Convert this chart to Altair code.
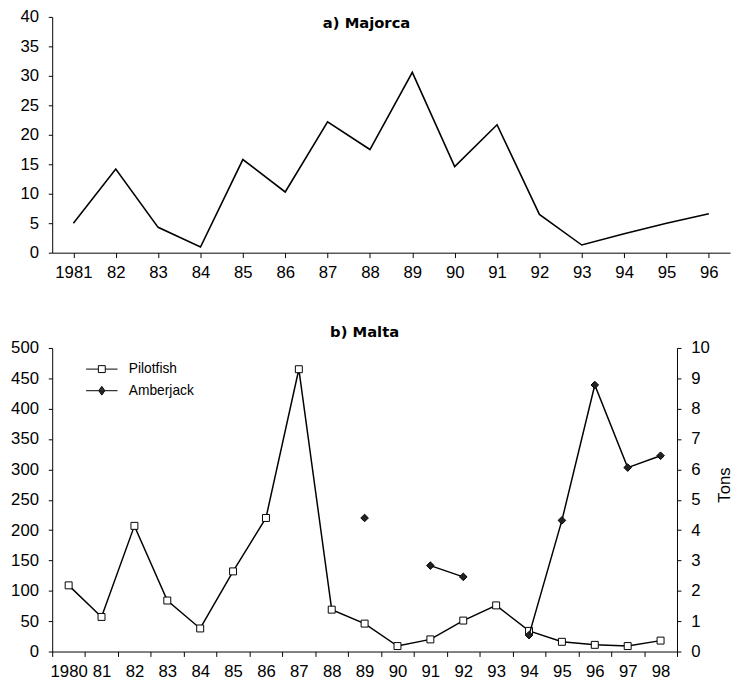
import altair as alt
import pandas as pd

FONT = "Liberation Sans"
TITLE_FONT = "DejaVu Sans"

# a) Majorca
maj_years = ["1981", "82", "83", "84", "85", "86", "87", "88", "89", "90",
             "91", "92", "93", "94", "95", "96"]
maj_values = [5.0, 14.2, 4.3, 0.95, 15.8, 10.3, 22.2, 17.5, 30.6, 14.6,
              21.7, 6.5, 1.3, 3.2, 5.0, 6.6]

# b) Malta
malta_years = ["1980", "81", "82", "83", "84", "85", "86", "87", "88", "89",
               "90", "91", "92", "93", "94", "95", "96", "97", "98"]
pilotfish = [109, 57, 207, 84, 38, 132, 220, 465, 69, 46,
             9, 20, 51, 76, 34, 16, 11, 9, 18]
amberjack = [None, None, None, None, None, None, None, None, None, 4.4,
             None, 2.83, 2.46, None, 0.54, 4.32, 8.78, 6.06, 6.45]
series_names = ["Pilotfish", "Amberjack"]
panel_titles = ["a) Majorca", "b) Malta"]
legend_paths = [
    "M-2,0H-0.44M0.44,0H2M-0.44,-0.44H0.44M0.44,-0.44V0.44M0.44,0.44H-0.44M-0.44,0.44V-0.44",
    "M-2,0H2M0,-0.56L0.38,0L0,0.56L-0.38,0Z"
    "M-0.3,-0.12H0.3M-0.3,0.12H0.3M-0.21,-0.25H0.21M-0.21,0.25H0.21"
    "M-0.12,-0.38H0.12M-0.12,0.38H0.12",
]

top_df = pd.DataFrame({"year": maj_years, "value": maj_values})
bot_df = pd.DataFrame({"year": malta_years, "pilot": pilotfish,
                       "amber": amberjack})
leg_df = pd.DataFrame({"series": series_names})


def title_layer(text, xpos, ypos):
    return alt.Chart(pd.DataFrame({"t": [text]})).mark_text(
        font=TITLE_FONT, fontSize=15, fontWeight="bold", color="black",
        align="center", baseline="alphabetic"
    ).encode(text="t:N", x=alt.value(xpos), y=alt.value(ypos))


top_line = alt.Chart(top_df).mark_line(color="black", strokeWidth=1.6).encode(
    x=alt.X("year:O", sort=maj_years,
            scale=alt.Scale(type="point", padding=0.5),
            axis=alt.Axis(title=None, labelAngle=0, tickSize=5, labelPadding=7)),
    y=alt.Y("value:Q", scale=alt.Scale(domain=[0, 40], nice=False),
            axis=alt.Axis(title=None, values=list(range(0, 41, 5)),
                          tickSize=4, labelPadding=10)),
)
top = alt.layer(top_line, title_layer(panel_titles[0], 320, 11)).properties(
    width=690, height=240)

xb = alt.X("year:O", sort=malta_years, bandPosition=0.5,
           scale=alt.Scale(type="band", paddingInner=0, paddingOuter=0),
           axis=alt.Axis(title=None, labelAngle=0, tickBand="extent",
                         tickSize=5, labelPadding=7))

base = alt.Chart(bot_df)
yp = alt.Y("pilot:Q", scale=alt.Scale(domain=[0, 500], nice=False),
           axis=alt.Axis(title=None, values=list(range(0, 501, 50)),
                         tickSize=4, labelPadding=10))
pilot_line = base.mark_line(color="black", strokeWidth=1.5).encode(x=xb, y=yp)
pilot_pts = base.mark_point(shape="square", size=50, filled=True, fill="white",
                            stroke="black", strokeWidth=1, opacity=1).encode(x=xb, y=yp)

legend = alt.Legend(
    title=None, orient="none", legendX=42, legendY=13,
    symbolSize=256, labelOffset=19, labelFont=FONT,
    labelFontSize=14, labelColor="black", rowPadding=6,
    symbolStrokeWidth=1, symbolStrokeColor="black", symbolFillColor="#222222",
    symbolOpacity=1, padding=0,
)
ghost = alt.Chart(leg_df).transform_filter("false").mark_point(
    color="black", strokeWidth=1, opacity=1, filled=False
).encode(
    shape=alt.Shape("series:N", scale=alt.Scale(domain=series_names, range=legend_paths),
                    legend=legend),
)

ya = alt.Y("amber:Q", scale=alt.Scale(domain=[0, 10], nice=False),
           axis=alt.Axis(title="Tons", orient="right", values=list(range(0, 11)),
                         tickSize=4, labelPadding=10, titleAngle=270,
                         titlePadding=25, titleY=139))
amber_line = base.mark_line(color="black", strokeWidth=1.5,
                            invalid="break-paths-filter-domains").encode(x=xb, y=ya)
amber_pts = base.mark_point(shape="diamond", size=60, filled=True, fill="#222222",
                            stroke="black", strokeWidth=1, opacity=1).encode(x=xb, y=ya)

bottom = alt.layer(
    alt.layer(pilot_line, pilot_pts, ghost, title_layer(panel_titles[1], 318, -11)),
    alt.layer(amber_line, amber_pts),
).resolve_scale(y="independent").properties(width=636, height=309)

chart = alt.vconcat(top, bottom, spacing=46).resolve_legend(
    shape="independent"
).properties(
    padding={"left": 2, "top": -6, "right": 0, "bottom": 0}
).configure_axis(
    labelFont=FONT, labelFontSize=17, labelColor="black",
    titleFont=FONT, titleFontSize=17, titleFontWeight="normal", titleColor="black",
    domainColor="black", tickColor="black", grid=False,
).configure_view(stroke=None)

chart.save("out.html", embed_options={"renderer": "svg", "actions": False})
